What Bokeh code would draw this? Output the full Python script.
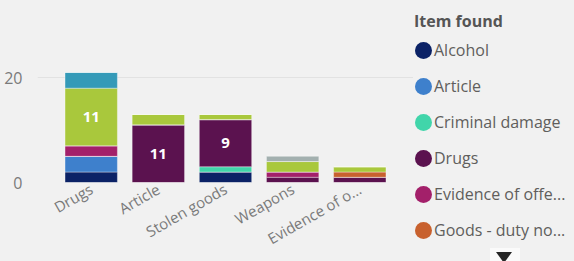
from bokeh.plotting import figure
from bokeh.models import ColumnDataSource, Range1d, FactorRange, FixedTicker, Div
from bokeh.layouts import row
from bokeh.core.properties import value
from bokeh.embed import file_html
from bokeh.resources import INLINE

# ---- data ----
categories = ["Drugs", "Article", "Stolen goods", "Weapons", "Evidence of o..."]
series_names = ["Alcohol", "Article", "Criminal damage", "Drugs", "Evidence of offence",
                "Goods - duty not paid", "Nothing found", "Stolen goods", "Weapons"]
legend_title = "Item found"
legend_labels = ["Alcohol", "Article", "Criminal damage", "Drugs",
                 "Evidence of offe...", "Goods - duty no..."]
alcohol = [2, 0, 2, 0, 0]
article = [3, 0, 0, 0, 0]
criminal_damage = [0, 0, 1, 0, 0]
drugs = [0, 11, 9, 1, 1]
evidence_of_offence = [2, 0, 0, 1, 0]
goods_duty_not_paid = [0, 0, 0, 0, 1]
nothing_found = [11, 2, 1, 2, 1]
stolen_goods = [3, 0, 0, 0, 0]
weapons = [0, 0, 0, 1, 0]
y_ticks = [0, 20]

series_values = [alcohol, article, criminal_damage, drugs, evidence_of_offence,
                 goods_duty_not_paid, nothing_found, stolen_goods, weapons]
colors = ["#0B2266", "#3E80CC", "#41D5AA", "#5B124F", "#A3206A",
          "#C8612E", "#A9C83C", "#349AB8", "#A3B0AF"]

FONT = "Open Sans"
BG = "#F1F1F1"
TXT = "#7A7A7A"

data = {"cat": categories}
for name, vals in zip(series_names, series_values):
    data[name] = vals
source = ColumnDataSource(data)

p = figure(x_range=FactorRange(factors=categories, range_padding=0.12),
           y_range=Range1d(0, 25),
           width=413, height=261, output_backend="svg", toolbar_location=None,
           min_border_left=37, min_border_right=0, min_border_top=51, min_border_bottom=79,
           margin=0)
p.background_fill_color = BG
p.border_fill_color = BG
p.outline_line_color = None

p.vbar_stack(series_names, x="cat", width=0.78, source=source, color=colors,
             line_color="#FFFFFF", line_alpha=0.35, line_width=1)

# data labels on large segments
lx, ly, lt = [], [], []
for i, c in enumerate(categories):
    base = 0
    for vals in series_values:
        v = vals[i]
        if v >= 5:
            lx.append(c)
            ly.append(base + v / 2)
            lt.append(str(v))
        base += v
p.text(x=lx, y=ly, text=lt, text_color="#FFFFFF", text_font=value(FONT),
       text_font_size="15px", text_font_style="bold", text_align="center",
       text_baseline="middle")

p.xgrid.grid_line_color = None
p.ygrid.grid_line_color = "#E2E2E2"
p.yaxis.ticker = FixedTicker(ticks=y_ticks)
for ax in (p.xaxis, p.yaxis):
    ax.axis_line_color = None
    ax.major_tick_line_color = None
    ax.minor_tick_line_color = None
    ax.major_tick_out = 0
    ax.major_tick_in = 0
    ax.minor_tick_out = 0
    ax.minor_tick_in = 0
    ax.axis_label_standoff = 0
    ax.major_label_text_color = TXT
    ax.major_label_text_font = FONT
    ax.major_label_text_font_size = "16px"
p.yaxis.major_label_standoff = 15
p.xaxis.major_label_orientation = 0.52
p.xaxis.major_label_standoff = 5
p.xaxis.major_label_text_font_size = "15px"

# ---- legend panel (HTML) ----
n = len(legend_labels)
parts = [f'<div style="position:relative;width:161px;height:261px;background:{BG};'
         f'font-family:\'{FONT}\';font-size:16px;overflow:hidden;">']
parts.append(f'<div style="position:absolute;left:1px;top:10px;line-height:22px;'
             f'font-weight:bold;color:#555555;white-space:nowrap;">{legend_title}</div>')
for i, (lab, col) in enumerate(zip(legend_labels, colors[:n])):
    cy = 50 + 36 * i
    parts.append(f'<div style="position:absolute;left:2px;top:{cy - 8.5}px;width:17px;'
                 f'height:17px;border-radius:50%;background:{col};"></div>')
    parts.append(f'<div style="position:absolute;left:21px;top:{cy - 11}px;'
                 f'line-height:22px;color:#605E5C;white-space:nowrap;">{lab}</div>')
parts.append('<div style="position:absolute;left:77px;top:248px;width:30px;height:13px;'
             'background:#FAFAFA;"></div>')
parts.append('<div style="position:absolute;left:83px;top:252px;width:0;height:0;'
             'border-left:8.5px solid transparent;border-right:8.5px solid transparent;'
             'border-top:11px solid #252525;"></div>')
parts.append('</div>')
legend_div = Div(text="".join(parts), width=161, height=261, margin=0)

layout = row(p, legend_div, spacing=0, width=574, height=261, margin=0,
             styles={"overflow": "hidden", "background-color": BG})

open("out.html", "w").write(file_html(layout, INLINE))
